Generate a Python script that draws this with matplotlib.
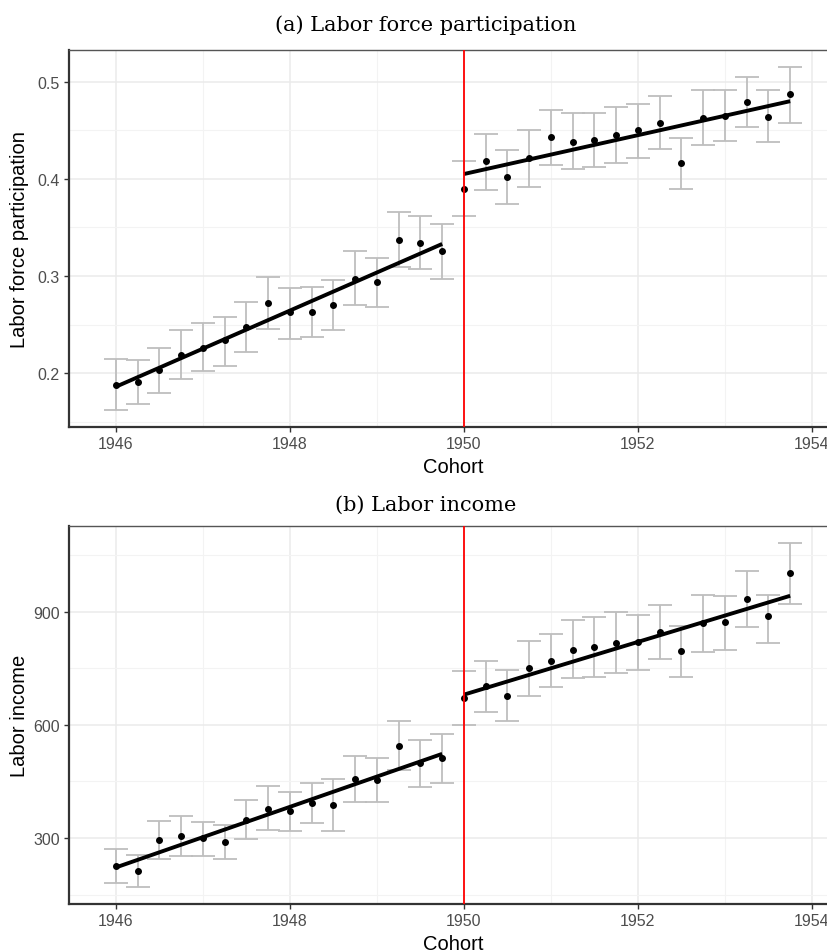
import matplotlib
matplotlib.use("Agg")
import matplotlib.pyplot as plt
import numpy as np
from matplotlib.ticker import MultipleLocator

# quarterly cohorts 1946Q1 .. 1953Q4
cohort = [1946 + 0.25 * i for i in range(32)]

lfp = [0.188, 0.191, 0.203, 0.219, 0.226, 0.234, 0.247, 0.272, 0.263, 0.263,
       0.270, 0.297, 0.294, 0.337, 0.334, 0.326,
       0.390, 0.418, 0.402, 0.422, 0.443, 0.438, 0.440, 0.445, 0.450, 0.458,
       0.416, 0.463, 0.465, 0.479, 0.464, 0.487]
lfp_hi = [0.215, 0.214, 0.226, 0.244, 0.252, 0.258, 0.273, 0.299, 0.288, 0.289,
          0.296, 0.326, 0.319, 0.366, 0.362, 0.354,
          0.418, 0.446, 0.430, 0.450, 0.471, 0.468, 0.468, 0.474, 0.477, 0.485,
          0.442, 0.491, 0.492, 0.505, 0.491, 0.515]
lfp_lo = [0.162, 0.168, 0.179, 0.194, 0.202, 0.207, 0.222, 0.245, 0.235, 0.237,
          0.244, 0.270, 0.268, 0.309, 0.307, 0.297,
          0.362, 0.389, 0.374, 0.392, 0.414, 0.410, 0.412, 0.416, 0.422, 0.431,
          0.390, 0.435, 0.439, 0.453, 0.438, 0.458]

income = [225, 213, 295, 304, 299, 290, 348, 377, 372, 394,
          387, 456, 455, 545, 498, 512,
          671, 704, 677, 750, 768, 799, 806, 818, 819, 845,
          795, 869, 872, 933, 888, 1002]
income_hi = [271, 255, 346, 357, 343, 334, 401, 437, 423, 445,
             456, 518, 511, 611, 560, 576,
             742, 770, 746, 823, 840, 879, 887, 899, 892, 918,
             863, 944, 942, 1007, 945, 1083]
income_lo = [181, 171, 244, 253, 251, 244, 297, 321, 319, 339,
             319, 396, 396, 479, 436, 445,
             600, 635, 611, 676, 699, 723, 727, 737, 746, 774,
             726, 792, 799, 859, 816, 921]

# fitted lines on each side of the 1950 cutoff (start, end)
fit_left_x = [1946.0, 1949.75]
fit_right_x = [1950.0, 1953.75]
lfp_fit_left = [0.186, 0.333]
lfp_fit_right = [0.405, 0.480]
income_fit_left = [222, 523]
income_fit_right = [680, 942]

cutoff = 1950

GRID = "#EBEBEB"
TICK_GREY = "#4D4D4D"
SANS = "Liberation Sans"
SERIF = "DejaVu Serif"
W, H = 828, 953


def draw_panel(ax, y, lo, hi, fit_l, fit_r, ylim, major, ylabel):
    y = np.asarray(y)
    yerr = [y - np.asarray(lo), np.asarray(hi) - y]
    ax.errorbar(cohort, y, yerr=yerr, fmt="none", ecolor="#BEBEBE",
                elinewidth=1.3, capsize=8.5, capthick=1.3, zorder=2)
    ax.scatter(cohort, y, s=16, color="black", zorder=3)
    ax.plot(fit_left_x, fit_l, color="black", lw=2.8, zorder=4,
            solid_capstyle="butt")
    ax.plot(fit_right_x, fit_r, color="black", lw=2.8, zorder=4,
            solid_capstyle="butt")
    ax.axvline(cutoff, color="red", lw=1.3, zorder=5)

    ax.set_xlim(1945.46, 1954.3)
    ax.set_ylim(*ylim)
    ax.xaxis.set_major_locator(MultipleLocator(2))
    ax.xaxis.set_minor_locator(MultipleLocator(1))
    ax.yaxis.set_major_locator(MultipleLocator(major))
    ax.yaxis.set_minor_locator(MultipleLocator(major / 2))
    ax.grid(which="major", color=GRID, lw=1.1, zorder=0)
    ax.grid(which="minor", color="#F3F3F3", lw=0.8, zorder=0)
    ax.set_axisbelow(True)
    ax.tick_params(which="major", direction="out", length=3.5, width=1,
                   color="#333333", labelcolor=TICK_GREY, labelsize=11.5,
                   pad=3)
    ax.tick_params(which="minor", length=0)
    for label in ax.get_xticklabels() + ax.get_yticklabels():
        label.set_family(SANS)

    for side in ("top", "right"):
        ax.spines[side].set_color("#555555")
        ax.spines[side].set_linewidth(1.0)
    for side in ("left", "bottom"):
        ax.spines[side].set_color("#333333")
        ax.spines[side].set_linewidth(1.6)

    ax.set_xlabel("Cohort", fontsize=14.5, family=SANS, labelpad=4)
    ax.set_ylabel(ylabel, fontsize=14.5, family=SANS)
    ax.yaxis.set_label_coords(-(69 - 29) / (838 - 69), 0.5)


fig = plt.figure(figsize=(8.28, 9.53), dpi=100)
ax_a = fig.add_axes([69 / W, 1 - 428 / H, (838 - 69) / W, (428 - 51) / H])
ax_b = fig.add_axes([69 / W, 1 - 905 / H, (838 - 69) / W, (905 - 527) / H])

draw_panel(ax_a, lfp, lfp_lo, lfp_hi, lfp_fit_left, lfp_fit_right,
           (0.1445, 0.5327), 0.1, "Labor force participation")
draw_panel(ax_b, income, income_lo, income_hi, income_fit_left,
           income_fit_right, (125, 1127), 300, "Labor income")

fig.text(426 / W, 1 - 25 / H, "(a) Labor force participation",
         ha="center", va="center", fontsize=15, family=SERIF)
fig.text(426 / W, 1 - 505 / H, "(b) Labor income",
         ha="center", va="center", fontsize=15, family=SERIF)

fig.savefig("out.png", dpi=100)
